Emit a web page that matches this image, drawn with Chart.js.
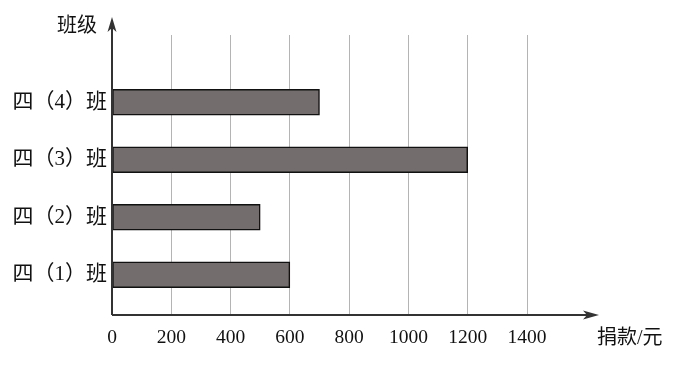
<!DOCTYPE html>
<html>
<head>
<meta charset="utf-8">
<script src="https://cdn.jsdelivr.net/npm/chart.js@4"></script>
<style>
  html, body { margin: 0; padding: 0; background: #fff; }
  #wrap { width: 676px; height: 370px; }
</style>
</head>
<body>
<div id="wrap"><canvas id="chart" width="676" height="370"></canvas></div>
<script>
// 数据
const classes = ['四（1）班', '四（2）班', '四（3）班', '四（4）班'];
const slots = [1, 2, 3, 4];
const donations = [600, 500, 1200, 700];
const xTicks = [0, 200, 400, 600, 800, 1000, 1200, 1400];

const FONT = '"Liberation Serif", "Noto Sans CJK SC", serif';

// 坐标轴 + 箭头 + 轴名称
const axisArrows = {
  id: 'axisArrows',
  afterDraw(chart) {
    const { ctx, chartArea } = chart;
    const x0 = chartArea.left, y0 = chartArea.bottom;
    ctx.save();
    ctx.strokeStyle = '#333';
    ctx.fillStyle = '#333';
    ctx.lineWidth = 2;
    // y 轴
    ctx.beginPath();
    ctx.moveTo(x0, y0);
    ctx.lineTo(x0, 22);
    ctx.stroke();
    ctx.beginPath();
    ctx.moveTo(x0, 17);
    ctx.lineTo(x0 - 4.5, 32);
    ctx.lineTo(x0, 28);
    ctx.lineTo(x0 + 4.5, 32);
    ctx.closePath();
    ctx.fill();
    // x 轴
    ctx.beginPath();
    ctx.moveTo(x0, y0);
    ctx.lineTo(594, y0);
    ctx.stroke();
    ctx.beginPath();
    ctx.moveTo(599, y0);
    ctx.lineTo(583, y0 - 4.5);
    ctx.lineTo(587, y0);
    ctx.lineTo(583, y0 + 4.5);
    ctx.closePath();
    ctx.fill();
    // 轴名称
    ctx.fillStyle = '#111';
    ctx.font = '20px ' + FONT;
    ctx.textBaseline = 'middle';
    ctx.textAlign = 'left';
    ctx.fillText('班级', 57, 27);
    ctx.fillText('捐款/元', 597, 339);
    ctx.restore();
  }
};

new Chart(document.getElementById('chart'), {
  type: 'bar',
  data: {
    datasets: [{
      data: slots.map((s, i) => ({ x: donations[i], y: s })),
      backgroundColor: '#736d6d',
      borderColor: '#111',
      borderWidth: 1.5,
      borderSkipped: false,
      barThickness: 26
    }]
  },
  options: {
    indexAxis: 'y',
    responsive: false,
    animation: false,
    events: [],
    layout: { padding: { top: 35, right: 149, left: 0, bottom: 0 } },
    plugins: { legend: { display: false }, tooltip: { enabled: false } },
    scales: {
      x: {
        type: 'linear',
        min: 0,
        max: 1400,
        afterBuildTicks: s => { s.ticks = xTicks.map(v => ({ value: v })); },
        afterFit: s => { s.height = 55; },
        border: { display: false },
        grid: { color: '#b4b4b4', lineWidth: 1, drawTicks: false },
        ticks: {
          padding: 11,
          color: '#111',
          font: { family: FONT, size: 19.5 },
          maxRotation: 0,
          autoSkip: false,
          callback: v => String(v)
        }
      },
      y: {
        type: 'linear',
        offset: false,
        min: 0.3,
        max: 5.17,
        afterBuildTicks: s => { s.ticks = slots.map(v => ({ value: v })); },
        afterFit: s => { s.width = 112; },
        border: { display: false },
        grid: { display: false, drawTicks: false, offset: false },
        ticks: {
          padding: 5,
          color: '#111',
          autoSkip: false,
          font: { family: FONT, size: 21 },
          callback: v => classes[slots.indexOf(v)] || ''
        }
      }
    }
  },
  plugins: [axisArrows]
});
</script>
</body>
</html>
